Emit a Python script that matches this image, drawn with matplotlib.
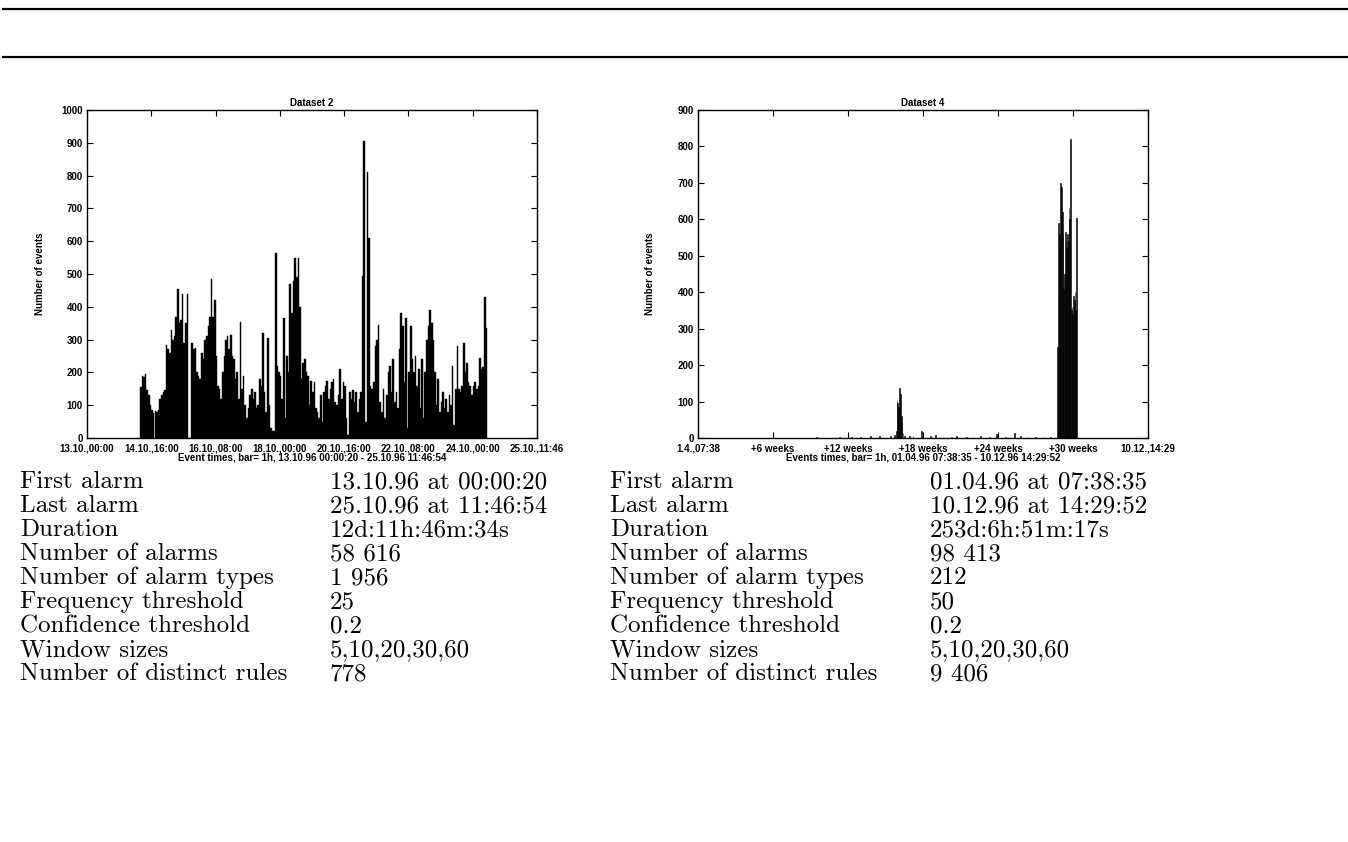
import numpy as np
import matplotlib
matplotlib.use('Agg')
import matplotlib.pyplot as plt
from matplotlib.lines import Line2D

# Dataset 2: events per hour, hour 0 = 13.10. 00:00
D2_FIRST_HOUR = 33
d2_counts = [
    155, 190, 185, 195, 145, 130, 100, 85, 75, 82,
    80, 85, 120, 130, 140, 145, 285, 270, 260, 330,
    300, 310, 370, 455, 350, 360, 440, 290, 350, 440,
    0, 0, 290, 270, 275, 200, 190, 180, 260, 240,
    300, 310, 340, 370, 485, 370, 420, 250, 160, 150,
    120, 200, 250, 300, 310, 270, 315, 250, 240, 180,
    200, 120, 355, 150, 190, 100, 60, 90, 130, 150,
    120, 140, 90, 100, 180, 160, 320, 140, 80, 305,
    100, 30, 20, 20, 565, 220, 200, 190, 120, 365,
    60, 250, 200, 470, 380, 480, 550, 490, 550, 400,
    180, 230, 240, 200, 190, 100, 175, 140, 170, 90,
    80, 60, 130, 50, 140, 160, 175, 120, 150, 170,
    180, 110, 100, 130, 210, 120, 170, 160, 60, 10,
    140, 120, 145, 110, 140, 80, 120, 140, 495, 905,
    50, 810, 610, 160, 150, 170, 280, 300, 345, 110,
    80, 150, 60, 130, 200, 220, 140, 240, 110, 140,
    90, 270, 380, 340, 170, 365, 30, 200, 340, 240,
    200, 250, 160, 210, 90, 240, 60, 200, 300, 340,
    390, 350, 300, 200, 100, 180, 80, 110, 140, 90,
    120, 80, 130, 100, 220, 40, 150, 280, 150, 140,
    160, 290, 200, 230, 170, 160, 130, 160, 170, 150,
    160, 245, 210, 215, 430, 335,
]
d2_tick_labels = ["13.10.,00:00", "14.10.,16:00", "16.10.,08:00", "18.10.,00:00",
                  "20.10.,16:00", "22.10.,08:00", "24.10.,00:00", "25.10.,11:46"]

# Dataset 4: weeks since 01.04. 07:38 and events per hour
d4_weeks = [9.5, 11.3, 12.3, 13.0, 13.8, 14.5, 15.4, 15.7,
            15.85, 15.92, 15.98, 16.05, 16.12, 16.18, 16.25, 16.32, 16.40, 16.5,
            16.9, 17.2, 17.9, 18.6, 19.0, 19.6, 20.3, 20.7, 21.5, 22.0, 22.6,
            23.3, 23.9, 24.6, 25.3, 25.8, 26.4, 27.0, 27.6, 28.2,
            28.78, 28.84, 28.90, 28.96, 29.02, 29.08, 29.14, 29.20, 29.26,
            29.32, 29.38, 29.44, 29.50, 29.56, 29.62, 29.68, 29.74, 29.80,
            29.86, 29.92, 29.98, 30.04, 30.10, 30.16, 30.22, 30.28]
d4_counts = [3, 4, 3, 4, 5, 5, 6, 8,
             20, 105, 95, 85, 138, 120, 60, 45, 15, 5,
             5, 6, 20, 5, 8, 4, 3, 6, 4, 3, 5,
             4, 12, 3, 15, 5, 3, 4, 3, 3,
             250, 590, 560, 520, 700, 690, 620, 560, 410,
             450, 565, 540, 520, 560, 540, 630, 600, 820,
             350, 360, 340, 390, 380, 400, 350, 605]
d4_tick_labels = ["1.4.,07:38", "+6 weeks", "+12 weeks", "+18 weeks",
                  "+24 weeks", "+30 weeks", "10.12.,14:29"]

row_labels = ["First alarm", "Last alarm", "Duration", "Number of alarms",
              "Number of alarm types", "Frequency threshold", "Confidence threshold",
              "Window sizes", "Number of distinct rules"]
d2_table = ["13.10.96 at 00:00:20", "25.10.96 at 11:46:54", "12d:11h:46m:34s",
            "58 616", "1 956", "25", "0.2", "5,10,20,30,60", "778"]
d4_table = ["01.04.96 at 07:38:35", "10.12.96 at 14:29:52", "253d:6h:51m:17s",
            "98 413", "212", "50", "0.2", "5,10,20,30,60", "9 406"]

W, H = 1348, 842
plt.rcParams['font.family'] = ['Liberation Sans', 'DejaVu Sans']
plt.rcParams['font.weight'] = 'bold'
plt.rcParams['axes.titleweight'] = 'bold'
plt.rcParams['axes.labelweight'] = 'bold'
fig = plt.figure(figsize=(W / 100, H / 100), dpi=100)

# page rules
for y in (9, 57):
    fig.add_artist(Line2D([3 / W, 1.0], [1 - y / H] * 2, color='black', lw=1.6))


def style_axes(ax):
    ax.tick_params(direction='in', length=4, width=0.8, top=True, right=True,
                   labelsize=7)
    ax.tick_params(axis='x', pad=4)
    ax.tick_params(axis='y', pad=3)
    for s in ax.spines.values():
        s.set_linewidth(1.0)


# Dataset 2
ax1 = fig.add_axes([87 / W, 1 - 438 / H, 450 / W, 328 / H])
hours = D2_FIRST_HOUR + np.arange(len(d2_counts))
ax1.bar(hours, d2_counts, width=1.0, align='edge', color='black',
        edgecolor='black', linewidth=0.3)
ax1.set_xlim(0, 280)
ax1.set_ylim(0, 1000)
ax1.set_xticks(np.arange(0, 281, 40))
ax1.set_xticklabels(d2_tick_labels)
ax1.set_yticks(np.arange(0, 1001, 100))
ax1.set_title("Dataset 2", fontsize=7, pad=3)
ax1.set_xlabel("Event times, bar= 1h, 13.10.96 00:00:20 - 25.10.96 11:46:54",
               fontsize=7, labelpad=-1)
ax1.set_ylabel("Number of events", fontsize=7, labelpad=12)
style_axes(ax1)

# Dataset 4
ax2 = fig.add_axes([698 / W, 1 - 438 / H, 450 / W, 328 / H])
ax2.bar(d4_weeks, d4_counts, width=0.07, color='black',
        edgecolor='black', linewidth=0.4)
ax2.set_xlim(0, 36)
ax2.set_ylim(0, 900)
ax2.set_xticks(np.arange(0, 37, 6))
ax2.set_xticklabels(d4_tick_labels)
ax2.set_yticks(np.arange(0, 901, 100))
ax2.set_title("Dataset 4", fontsize=7, pad=3)
ax2.set_xlabel("Events times, bar= 1h, 01.04.96 07:38:35 - 10.12.96 14:29:52",
               fontsize=7, labelpad=-1)
ax2.set_ylabel("Number of events", fontsize=7, labelpad=16)
style_axes(ax2)

# tables under the charts
serif = ['cmr10', 'DejaVu Serif']
for i, lab in enumerate(row_labels):
    y = 1 - (482 + 24 * i) / H
    fig.text(20 / W, y, lab, fontsize=18, family=serif, weight='normal', va='center')
    fig.text(330 / W, y, d2_table[i], fontsize=18, family=serif, weight='normal', va='center')
    fig.text(610 / W, y, lab, fontsize=18, family=serif, weight='normal', va='center')
    fig.text(930 / W, y, d4_table[i], fontsize=18, family=serif, weight='normal', va='center')

fig.savefig('out.png', dpi=100)
